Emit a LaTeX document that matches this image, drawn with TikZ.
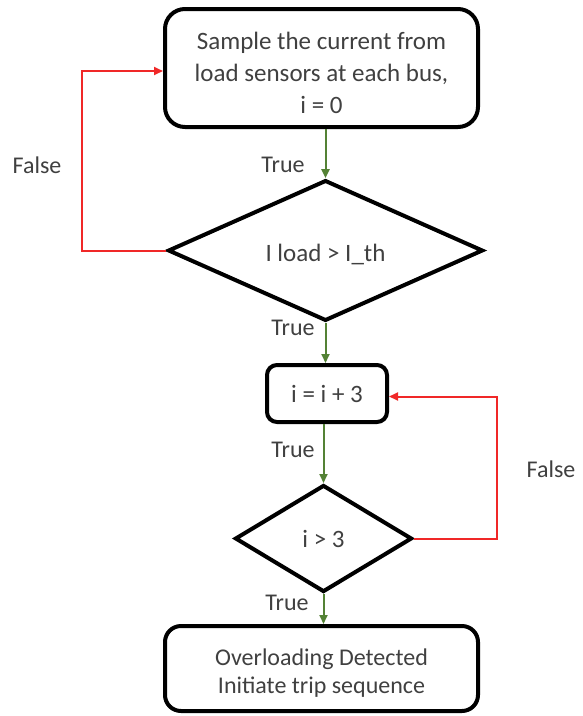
\documentclass[tikz,border=0pt]{standalone}
\usepackage{fontspec}
\setmainfont{Carlito}
\usetikzlibrary{shapes.geometric,arrows.meta}
\definecolor{txt}{RGB}{64,64,64}
\definecolor{yes}{RGB}{84,130,53}
\definecolor{no}{RGB}{240,40,40}
% lower text inside a node without changing the node's size
\newcommand{\lowertext}[2]{\raisebox{-#1}[\height][\depth]{#2}}
\begin{document}
\begin{tikzpicture}[x=1pt,y=-1pt,
  every node/.style={font=\fontsize{24}{29}\selectfont, text=txt},
  procbox/.style={draw=black, line width=4pt, align=center, inner sep=0pt},
  decision/.style={draw=black, line width=4pt, diamond, inner sep=0pt, align=center},
  yesarrow/.style={draw=yes, line width=2pt, -{Triangle[length=9pt,width=8pt]}},
  noarrow/.style={draw=no, line width=2pt, -{Triangle[length=9pt,width=8pt]}},
  lbl/.style={inner sep=0pt}]
\useasboundingbox (0,0) rectangle (582,716);

% process and decision blocks
\node[procbox, rounded corners=20pt, minimum width=313pt, minimum height=118pt,
  font=\fontsize{25}{32}\selectfont]
  (sample) at (321.5,68) {\lowertext{7pt}{\begin{tabular}{@{}c@{}}Sample the current from\\load sensors at each bus,\\i = 0\end{tabular}}};
\node[decision, minimum width=315pt, minimum height=115pt,
  font=\fontsize{25}{30}\selectfont]
  (load) at (325.5,250.5) {\lowertext{4pt}{I load > I\_th}};
\node[procbox, rounded corners=10pt, minimum width=120pt, minimum height=57pt,
  font=\fontsize{25}{30}\selectfont]
  (incr) at (327,393.5) {i = i + 3};
\node[decision, minimum width=177pt, minimum height=107pt,
  font=\fontsize{25}{30}\selectfont]
  (count) at (323.5,538.5) {i > 3};
\node[procbox, rounded corners=16pt, minimum width=313pt, minimum height=85pt,
  font=\fontsize{24}{28}\selectfont]
  (trip) at (321.5,668.5) {\lowertext{5pt}{\begin{tabular}{@{}c@{}}Overloading Detected\\Initiate trip sequence\end{tabular}}};

% loop-back corners
\coordinate (lx) at (82,0);
\coordinate (rx) at (497,0);

% connectors
\draw[yesarrow] (load.north |- sample.south) -- (load.north);
\draw[yesarrow] (load.south) -- (load.south |- incr.north);
\draw[yesarrow] (count.north |- incr.south) -- (count.north);
\draw[yesarrow] (count.south) -- (count.south |- trip.north);
\draw[noarrow] (load.west) -- (load.west -| lx) |- ([yshift=-3pt]sample.west);
\draw[noarrow] (count.east) -- (count.east -| rx) |- ([yshift=-3pt]incr.east);

% branch labels
\node[lbl] (f1) at (37,165) {False};
\node[lbl] (t1) at (283,165) {True};
\node[lbl] (t2) at (293,328) {True};
\node[lbl] (t3) at (293,450) {True};
\node[lbl] (f2) at (551,469) {False};
\node[lbl] (t4) at (287,603) {True};
\end{tikzpicture}
\end{document}
